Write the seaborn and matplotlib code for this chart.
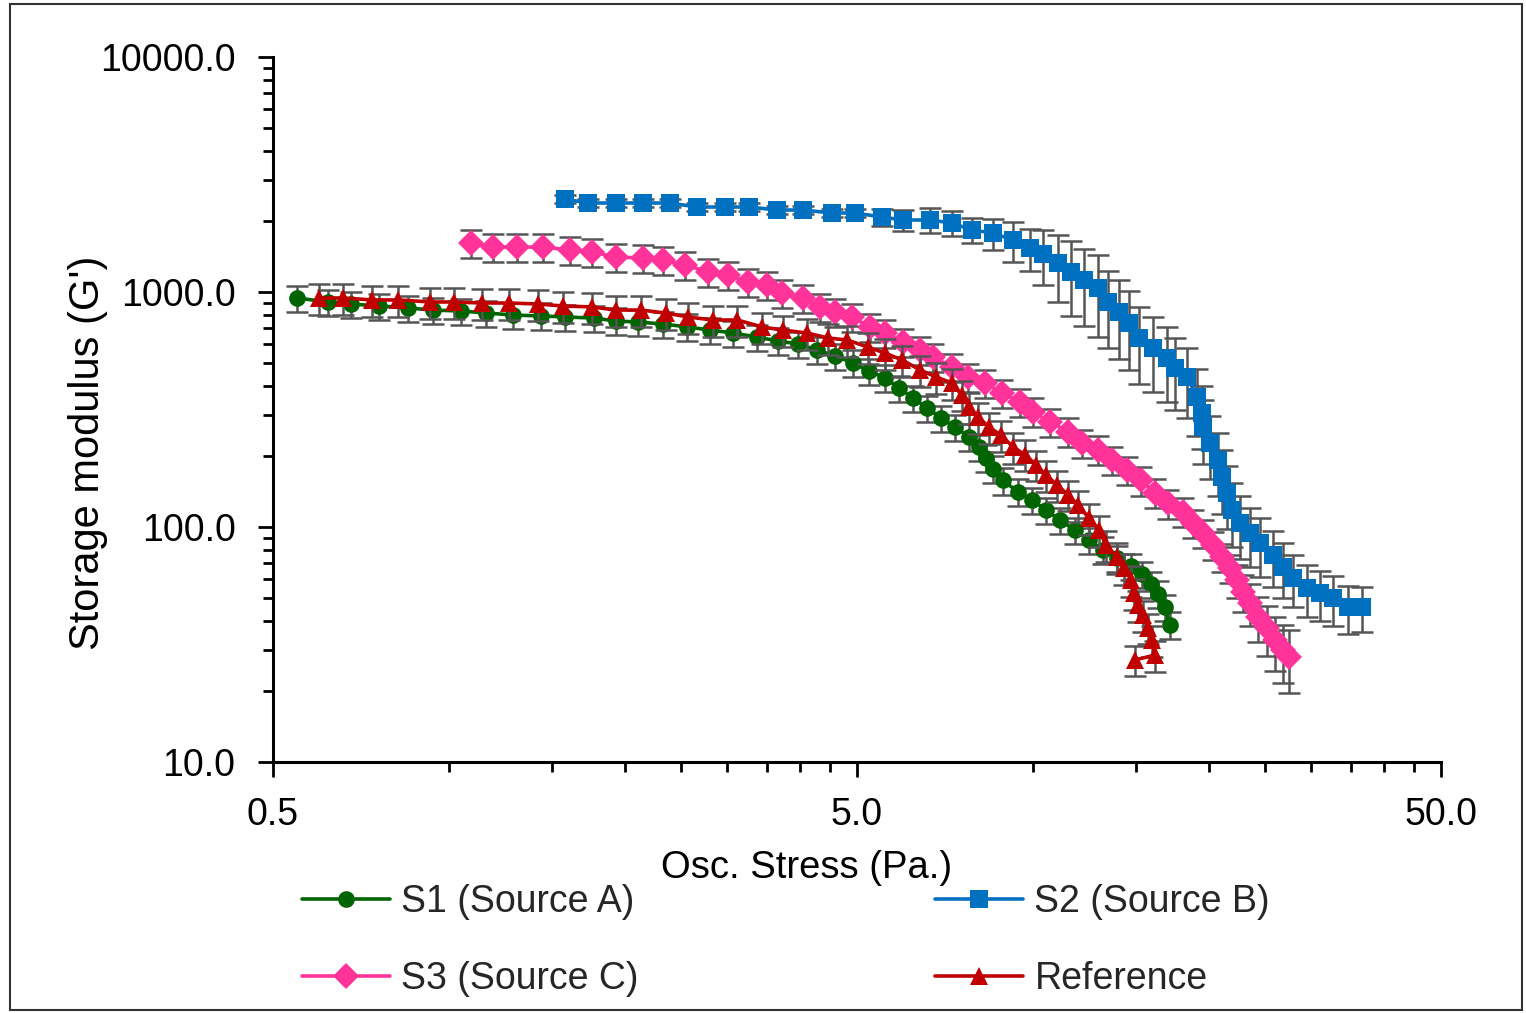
import pandas as pd
import seaborn as sns
import matplotlib.pyplot as plt
from matplotlib.patches import Rectangle

# S1 (Source A)
s1_stress = [0.55, 0.62, 0.68, 0.76, 0.85, 0.94, 1.05, 1.16, 1.29, 1.44,
             1.58, 1.77, 1.93, 2.11, 2.33, 2.56, 2.80, 3.07, 3.37, 3.66,
             3.96, 4.27, 4.59, 4.92, 5.24, 5.58, 5.90, 6.24, 6.59, 6.96,
             7.36, 7.78, 8.09, 8.32, 8.55, 8.89, 9.43, 9.97, 10.54, 11.13,
             11.81, 12.48, 13.19, 13.94, 14.73, 15.38, 15.94, 16.38, 16.84, 17.18]
s1_modulus = [943, 907, 889, 872, 855, 838, 830, 814, 798, 791,
              783, 775, 753, 745, 731, 710, 689, 669, 643, 619,
              601, 567, 534, 499, 461, 431, 390, 354, 321, 291,
              266, 242, 219, 197, 177, 158, 141, 130, 118, 107,
              97, 88, 80, 73.8, 68.2, 63.1, 57.2, 51.9, 45.6, 38.3]

# S2 (Source B)
s2_stress = [1.58, 1.73, 1.93, 2.15, 2.39, 2.66, 2.97, 3.27, 3.65, 4.04,
             4.53, 4.96, 5.52, 5.99, 6.67, 7.27, 7.87, 8.55, 9.25, 9.89,
             10.41, 11.04, 11.63, 12.24, 12.93, 13.45, 14.05, 14.61, 15.20, 16.06,
             16.98, 17.52, 18.37, 19.11, 19.49, 19.56, 20.11, 20.76, 21.09, 21.50,
             21.93, 22.63, 23.54, 24.49, 25.78, 26.81, 27.89, 29.48, 31.02, 32.66,
             34.65, 36.62]
s2_modulus = [2487, 2392, 2392, 2392, 2392, 2300, 2300, 2300, 2233, 2233,
              2169, 2169, 2085, 2025, 2025, 1966, 1835, 1783, 1664, 1539,
              1451, 1328, 1217, 1125, 1040, 907, 822, 738, 637, 578,
              524, 475, 435, 357, 306, 266, 228, 193, 163, 140,
              118, 104, 94.3, 85.5, 76.0, 67.6, 60.7, 55.0, 52.4, 49.9,
              45.6, 45.6]
s2_rel_err = [0.04, 0.04, 0.04, 0.04, 0.04, 0.04, 0.04, 0.04, 0.04, 0.04,
              0.04, 0.04, 0.08, 0.10, 0.12, 0.12, 0.12, 0.15, 0.19, 0.20,
              0.26, 0.32, 0.35, 0.36, 0.38, 0.36, 0.37, 0.37, 0.36, 0.35,
              0.35, 0.34, 0.33, 0.32, 0.30, 0.30, 0.30, 0.30, 0.30, 0.30,
              0.30, 0.30, 0.28, 0.28, 0.27, 0.26, 0.25, 0.25, 0.24, 0.24,
              0.23, 0.22]

# S3 (Source C)
s3_stress = [1.09, 1.19, 1.31, 1.45, 1.61, 1.76, 1.93, 2.15, 2.33, 2.54,
             2.78, 3.01, 3.25, 3.51, 3.72, 4.04, 4.32, 4.59, 4.90, 5.26,
             5.58, 5.99, 6.41, 6.75, 7.27, 7.75, 8.28, 8.86, 9.51, 10.01,
             10.70, 11.49, 12.14, 12.93, 13.66, 14.50, 15.32, 16.19, 17.04, 18.08,
             18.81, 19.56, 20.35, 21.09, 21.76, 22.37, 22.91, 23.54, 24.30, 25.18,
             25.98, 26.81, 27.46]
s3_modulus = [1616, 1554, 1554, 1554, 1509, 1480, 1409, 1395, 1368, 1303,
              1217, 1181, 1103, 1071, 990, 943, 864, 822, 783, 710,
              669, 613, 567, 529, 480, 435, 410, 372, 340, 309,
              280, 254, 228, 213, 193, 175, 158, 140, 126, 116,
              104, 94.3, 83.8, 74.5, 66.9, 59.5, 52.9, 47.5, 41.4, 37.2,
              33.0, 30.0, 28.0]
s3_rel_err = [0.14] * 45 + [0.16, 0.18, 0.20, 0.22, 0.24, 0.26, 0.28, 0.30]

# Reference
ref_stress = [0.60, 0.66, 0.74, 0.82, 0.93, 1.02, 1.14, 1.27, 1.42, 1.57,
              1.76, 1.93, 2.13, 2.35, 2.57, 2.83, 3.12, 3.44, 3.73, 4.11,
              4.46, 4.81, 5.22, 5.58, 5.97, 6.41, 6.83, 7.27, 7.56, 7.78,
              8.06, 8.41, 8.82, 9.25, 9.70, 10.13, 10.54, 11.00, 11.49, 11.95,
              12.48, 12.98, 13.35, 13.94, 14.33, 14.73, 14.91, 15.15, 15.44, 15.75,
              16.00, 16.19, 14.96]
ref_modulus = [943, 943, 925, 925, 907, 907, 898, 898, 889, 872,
               864, 838, 838, 814, 783, 760, 760, 710, 689, 669,
               637, 625, 583, 550, 514, 466, 435, 410, 365, 324,
               294, 266, 246, 219, 203, 184, 166, 151, 137, 124,
               109, 97, 83.8, 74.5, 66.9, 59.5, 52.4, 46.6, 42.2, 37.2,
               33.0, 28.5, 27.2]

s1_rel_err = [0.13] * len(s1_stress)
ref_rel_err = [0.15] * len(ref_stress)

x_major = [0.5, 5, 50]
x_major_labels = ["0.5", "5.0", "50.0"]
x_minor = [1, 1.5, 2, 2.5, 3, 3.5, 4, 4.5, 10, 15, 20, 25, 30, 35, 40, 45]
y_major = [10, 100, 1000, 10000]
y_major_labels = ["10.0", "100.0", "1000.0", "10000.0"]

series = [
    ("S1 (Source A)", s1_stress, s1_modulus, s1_rel_err, "#006400", "o", 12),
    ("S2 (Source B)", s2_stress, s2_modulus, s2_rel_err, "#0070C0", "s", 12.5),
    ("S3 (Source C)", s3_stress, s3_modulus, s3_rel_err, "#FF3399", "D", 13),
    ("Reference", ref_stress, ref_modulus, ref_rel_err, "#C00000", "^", 13),
]

sns.set_theme(style="ticks")
plt.rcParams['font.family'] = ['Liberation Sans', 'DejaVu Sans']

fig = plt.figure(figsize=(15.26, 10.13), dpi=100)
ax = fig.add_axes([0.1789, 0.2478, 0.7654, 0.6959])

for i, (name, xs, ys, rel, col, mk, ms) in enumerate(series):
    df = pd.DataFrame({"stress": xs, "modulus": ys})
    err = [v * e for v, e in zip(ys, rel)]
    ax.errorbar(xs, ys, yerr=[err, err], fmt='none', ecolor='#555555',
                elinewidth=1.8, capsize=8, capthick=1.8, zorder=2 + i * 2)
    sns.lineplot(data=df, x="stress", y="modulus", ax=ax, sort=False,
                 estimator=None, color=col, linewidth=2.6, marker=mk,
                 markersize=ms, markeredgewidth=0, label=name,
                 zorder=3 + i * 2)

ax.set_xscale('log')
ax.set_yscale('log')
ax.set_xlim(0.5, 50)
ax.set_ylim(10, 10000)

ax.set_xticks(x_major)
ax.set_xticklabels(x_major_labels)
ax.set_xticks(x_minor, minor=True)
ax.set_xticklabels([], minor=True)
ax.set_yticks(y_major)
ax.set_yticklabels(y_major_labels)
ax.set_yticks([m * d for d in [10, 100, 1000] for m in range(2, 10)], minor=True)
ax.set_yticklabels([], minor=True)

ax.tick_params(axis='both', which='major', labelsize=27, length=11, width=2,
               color='black', labelcolor='black', direction='out')
ax.tick_params(axis='both', which='minor', length=7, width=2, color='black',
               direction='out')
ax.tick_params(axis='x', which='major', pad=14)
ax.tick_params(axis='y', which='major', pad=16)

sns.despine(ax=ax)
for sp in ['left', 'bottom']:
    ax.spines[sp].set_color('black')
    ax.spines[sp].set_linewidth(2.2)
ax.grid(False)

ax.set_xlabel("Osc. Stress (Pa.)", fontsize=27.5, color='black', va='center')
ax.xaxis.set_label_coords(0.457, -0.151)
ax.set_ylabel("Storage modulus (G')", fontsize=30, color='black', va='center')
ax.yaxis.set_label_coords(-0.158, 0.438)

h, l = ax.get_legend_handles_labels()
lookup = dict(zip(l, h))
order = ["S1 (Source A)", "S3 (Source C)", "S2 (Source B)", "Reference"]
ax.legend([lookup[k] for k in order], order, ncol=2, loc='upper left',
          bbox_to_anchor=(302 / 1526, 1 - 884 / 1013),
          bbox_transform=fig.transFigure, frameon=False, fontsize=27,
          handlelength=2.35, handletextpad=0.3, columnspacing=7.9,
          labelspacing=1.1, borderpad=0, borderaxespad=0)

fig.add_artist(Rectangle((10 / 1526, 3 / 1013), 1512 / 1526, 1006 / 1013,
                         transform=fig.transFigure, fill=False,
                         edgecolor='#333333', linewidth=1.5))

fig.savefig("out.png", dpi=100)
